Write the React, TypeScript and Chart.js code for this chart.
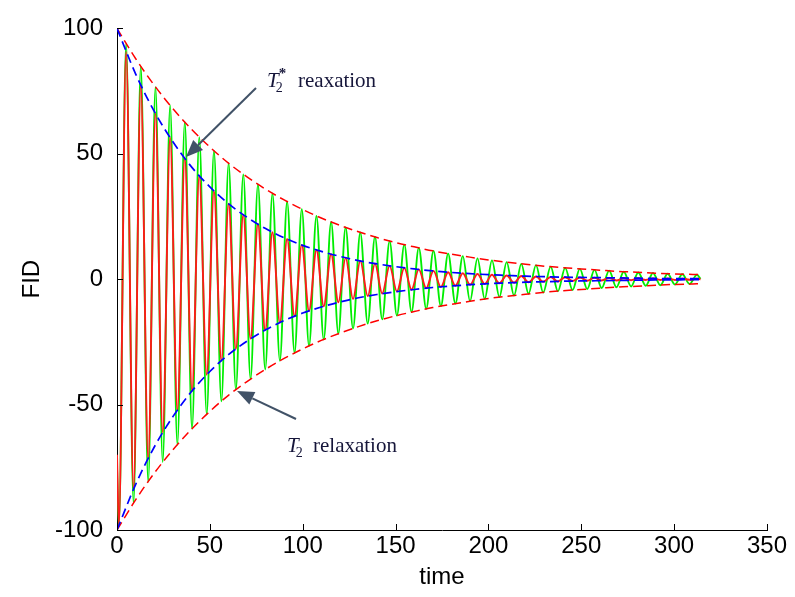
import React, { useEffect, useRef } from 'react';
import { Chart, registerables } from 'chart.js';

Chart.register(...registerables);

// Times of the successive extremes of the two FID oscillations
const peakTimes = [
  0,
  1.0, 4.9, 8.9, 12.8, 16.8, 20.7, 24.6, 28.6, 32.5, 36.5,
  40.4, 44.3, 48.3, 52.2, 56.2, 60.1, 64.0, 68.0, 71.9, 75.9,
  79.8, 83.7, 87.7, 91.6, 95.6, 99.5, 103.4, 107.4, 111.3, 115.3,
  119.2, 123.1, 127.1, 131.0, 135.0, 138.9, 142.8, 146.8, 150.7, 154.7,
  158.6, 162.5, 166.5, 170.4, 174.4, 178.3, 182.2, 186.2, 190.1, 194.1,
  198.0, 201.9, 205.9, 209.8, 213.8, 217.7, 221.6, 225.6, 229.5, 233.5,
  237.4, 241.3, 245.3, 249.2, 253.2, 257.1, 261.0, 265.0, 268.9, 272.9,
  276.8, 280.7, 284.7, 288.6, 292.6, 296.5, 300.4, 304.4, 308.3, 312.3,
  314.2,
];

// Green FID (T2 decay) extreme values
const fidT2 = [
  -75,
  -98.7, 93.9, -89.2, 84.9, -80.7, 76.7, -72.9, 69.3, -65.9, 62.7,
  -59.6, 56.6, -53.9, 51.2, -48.7, 46.3, -44.0, 41.8, -39.8, 37.8,
  -36.0, 34.2, -32.5, 30.9, -29.4, 27.9, -26.6, 25.2, -24.0, 22.8,
  -21.7, 20.6, -19.6, 18.6, -17.7, 16.9, -16.0, 15.2, -14.5, 13.8,
  -13.1, 12.5, -11.8, 11.3, -10.7, 10.2, -9.7, 9.2, -8.7, 8.3,
  -7.9, 7.5, -7.1, 6.8, -6.5, 6.1, -5.8, 5.6, -5.3, 5.0,
  -4.8, 4.5, -4.3, 4.1, -3.9, 3.7, -3.5, 3.4, -3.2, 3.0,
  -2.9, 2.7, -2.6, 2.5, -2.4, 2.2, -2.1, 2.0, -1.9, 1.8,
  0.1,
];

// Red FID (T2* decay) extreme values
const fidT2Star = [
  -70,
  -98.0, 90.6, -83.7, 77.4, -71.5, 66.1, -61.1, 56.5, -52.2, 48.2,
  -44.6, 41.2, -38.1, 35.2, -32.5, 30.1, -27.8, 25.7, -23.7, 21.9,
  -20.3, 18.7, -17.3, 16.0, -14.8, 13.7, -12.6, 11.7, -10.8, 10.0,
  -9.2, 8.5, -7.9, 7.3, -6.7, 6.2, -5.7, 5.3, -4.9, 4.5,
  -4.2, 3.9, -3.6, 3.3, -3.1, 2.8, -2.6, 2.4, -2.2, 2.1,
  -1.9, 1.8, -1.6, 1.5, -1.4, 1.3, -1.2, 1.1, -1.0, 0.9,
  -0.9, 0.8, -0.7, 0.7, -0.6, 0.6, -0.5, 0.5, -0.5, 0.4,
  -0.4, 0.4, -0.3, 0.3, -0.3, 0.3, -0.3, 0.2, -0.2, 0.2,
  0,
];

// Envelopes
const envTimes = [
  0, 10, 20, 30, 40, 50, 60, 70, 80, 90, 100, 110, 120, 130, 140, 150,
  160, 170, 180, 190, 200, 210, 220, 230, 240, 250, 260, 270, 280, 290, 300, 310, 314.2,
];
const t2Envelope = [
  100, 88.0, 77.4, 68.1, 59.9, 52.7, 46.3, 40.8, 35.9, 31.6, 27.8, 24.4, 21.5, 18.9, 16.6, 14.6,
  12.9, 11.3, 10.0, 8.8, 7.7, 6.8, 6.0, 5.2, 4.6, 4.1, 3.6, 3.1, 2.8, 2.4, 2.1, 1.9, 1.8,
];
const t2StarEnvelope = [
  100, 81.9, 67.0, 54.9, 44.9, 36.8, 30.1, 24.7, 20.2, 16.5, 13.5, 11.1, 9.1, 7.4, 6.1, 5.0,
  4.1, 3.3, 2.7, 2.2, 1.8, 1.5, 1.2, 1.0, 0.8, 0.7, 0.6, 0.5, 0.4, 0.3, 0.25, 0.2, 0.19,
];

const xTickMin = 0;
const xTickMax = 350;
const xTickStep = 50;
const yTickMin = -100;
const yTickMax = 100;
const yTickStep = 50;

const xTitle = 'time';
const yTitle = 'FID';
const upperLabel = 'reaxation';
const lowerLabel = 'relaxation';

const TICK_FONT = '"Liberation Sans", Arial, sans-serif';
const SERIF = '"Liberation Serif", "Times New Roman", serif';

function pts(xs: number[], ys: number[], sign = 1) {
  return xs.map((x, i) => ({ x, y: sign * ys[i] }));
}

function drawArrow(ctx: CanvasRenderingContext2D, x1: number, y1: number, x2: number, y2: number) {
  const color = '#415267';
  const ang = Math.atan2(y2 - y1, x2 - x1);
  const headLen = 17;
  const headW = 7;
  const bx = x2 - headLen * Math.cos(ang);
  const by = y2 - headLen * Math.sin(ang);
  ctx.save();
  ctx.strokeStyle = color;
  ctx.fillStyle = color;
  ctx.lineWidth = 2;
  ctx.beginPath();
  ctx.moveTo(x1, y1);
  ctx.lineTo(bx, by);
  ctx.stroke();
  ctx.beginPath();
  ctx.moveTo(x2, y2);
  ctx.lineTo(bx + headW * Math.sin(ang), by - headW * Math.cos(ang));
  ctx.lineTo(bx - headW * Math.sin(ang), by + headW * Math.cos(ang));
  ctx.closePath();
  ctx.fill();
  ctx.restore();
}

function drawLabel(ctx: CanvasRenderingContext2D, x: number, y: number, star: boolean, word: string, wordX: number) {
  ctx.save();
  ctx.fillStyle = '#16163a';
  ctx.textBaseline = 'alphabetic';
  ctx.textAlign = 'left';
  ctx.font = `italic 21px ${SERIF}`;
  ctx.fillText('T', x, y);
  const tw = ctx.measureText('T').width;
  ctx.font = `14px ${SERIF}`;
  ctx.fillText('2', x + tw - 3, y + 5);
  if (star) {
    ctx.font = `bold 15px ${SERIF}`;
    ctx.fillText('*', x + tw, y - 9);
  }
  ctx.font = `21px ${SERIF}`;
  ctx.fillText(word, wordX, y);
  ctx.restore();
}

const overlayPlugin = {
  id: 'overlay',
  afterDatasetsDraw(chart: any) {
    const { ctx, chartArea, scales } = chart;
    const xs = scales.x;
    const ys = scales.y;
    ctx.save();
    ctx.strokeStyle = '#000';
    ctx.lineWidth = 1;
    ctx.beginPath();
    xs.ticks.forEach((t: any) => {
      const px = Math.round(xs.getPixelForValue(t.value)) + 0.5;
      ctx.moveTo(px, chartArea.bottom);
      ctx.lineTo(px, chartArea.bottom - 6);
    });
    ys.ticks.forEach((t: any) => {
      const py = Math.round(ys.getPixelForValue(t.value)) + 0.5;
      ctx.moveTo(chartArea.left, py);
      ctx.lineTo(chartArea.left + 6, py);
    });
    ctx.stroke();
    ctx.restore();
  },
  afterDraw(chart: any) {
    const ctx = chart.ctx as CanvasRenderingContext2D;
    drawArrow(ctx, 256, 88, 186, 157);
    drawArrow(ctx, 296, 419, 237, 391);
    drawLabel(ctx, 267, 87, true, upperLabel, 298);
    drawLabel(ctx, 287, 452, false, lowerLabel, 313);
  },
};

export default function App() {
  const canvasRef = useRef<HTMLCanvasElement | null>(null);

  useEffect(() => {
    const canvas = canvasRef.current;
    if (!canvas) return;
    const dash = [9, 5];
    const chart = new Chart(canvas, {
      type: 'line',
      data: {
        datasets: [
          {
            label: 'T2* envelope +',
            data: pts(envTimes, t2StarEnvelope, 1),
            borderColor: '#0000ff',
            borderWidth: 1.7,
            borderDash: dash,
            pointRadius: 0,
            cubicInterpolationMode: 'monotone',
            order: 0,
          },
          {
            label: 'T2* envelope -',
            data: pts(envTimes, t2StarEnvelope, -1),
            borderColor: '#0000ff',
            borderWidth: 1.7,
            borderDash: dash,
            pointRadius: 0,
            cubicInterpolationMode: 'monotone',
            order: 0,
          },
          {
            label: 'T2 envelope +',
            data: pts(envTimes, t2Envelope, 1),
            borderColor: '#ff0000',
            borderWidth: 1.5,
            borderDash: dash,
            pointRadius: 0,
            cubicInterpolationMode: 'monotone',
            order: 1,
          },
          {
            label: 'T2 envelope -',
            data: pts(envTimes, t2Envelope, -1),
            borderColor: '#ff0000',
            borderWidth: 1.5,
            borderDash: dash,
            pointRadius: 0,
            cubicInterpolationMode: 'monotone',
            order: 1,
          },
          {
            label: 'FID T2*',
            data: pts(peakTimes, fidT2Star),
            borderColor: '#ff1a1a',
            borderWidth: 1.9,
            pointRadius: 0,
            cubicInterpolationMode: 'monotone',
            order: 2,
          },
          {
            label: 'FID T2',
            data: pts(peakTimes, fidT2),
            borderColor: '#00ee00',
            borderWidth: 1.9,
            pointRadius: 0,
            cubicInterpolationMode: 'monotone',
            order: 3,
          },
        ],
      },
      options: {
        responsive: false,
        animation: false,
        events: [],
        layout: { padding: { left: 0, top: 20, right: 28, bottom: 0 } },
        plugins: {
          legend: { display: false },
          tooltip: { enabled: false },
        },
        scales: {
          x: {
            type: 'linear',
            min: xTickMin,
            max: xTickMax,
            grid: { display: false, drawTicks: false },
            border: { display: true, color: '#000', width: 1 },
            ticks: {
              stepSize: xTickStep,
              maxRotation: 0,
              padding: 2,
              color: '#000',
              font: { family: TICK_FONT, size: 24 },
            },
            title: {
              display: true,
              text: xTitle,
              color: '#000',
              font: { family: TICK_FONT, size: 24 },
              padding: { top: 0, bottom: 5 },
            },
            afterFit: (s: any) => {
              s.height = 67;
            },
          },
          y: {
            type: 'linear',
            min: yTickMin,
            max: yTickMax,
            grid: { display: false, drawTicks: false },
            border: { display: true, color: '#000', width: 1 },
            ticks: {
              stepSize: yTickStep,
              padding: 14,
              color: '#000',
              font: { family: TICK_FONT, size: 24 },
            },
            title: {
              display: true,
              text: yTitle,
              color: '#000',
              font: { family: TICK_FONT, size: 24 },
              padding: { top: 18, bottom: 0 },
            },
            afterFit: (s: any) => {
              s.width = 117;
            },
          },
        },
      },
      plugins: [overlayPlugin],
    } as any);
    return () => chart.destroy();
  }, []);

  return (
    <div style={{ position: 'absolute', left: 0, top: 0, width: 795, height: 597, background: '#fff' }}>
      <canvas ref={canvasRef} width={795} height={597} />
    </div>
  );
}
